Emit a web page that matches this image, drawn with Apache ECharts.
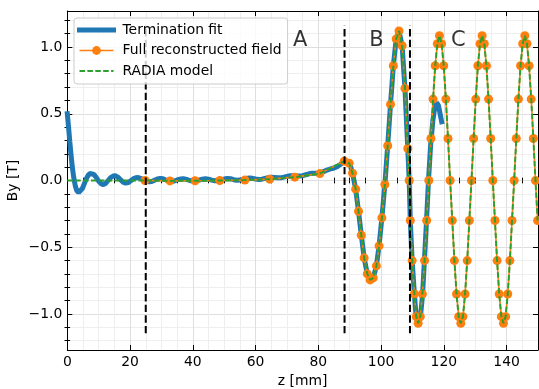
<!DOCTYPE html>
<html><head><meta charset="utf-8">
<script src="https://cdn.jsdelivr.net/npm/echarts@6/dist/echarts.min.js"></script>
<style>html,body{margin:0;padding:0;background:#fff}#c{width:539px;height:389px}</style>
</head><body><div id="c"></div>
<script>
// ---- tick values ----
const xMajor = [0, 20, 40, 60, 80, 100, 120, 140];
const xMinor = [5, 10, 15, 25, 30, 35, 45, 50, 55, 65, 70, 75, 85, 90, 95, 105, 110, 115, 125, 130, 135, 145];
const yMajor = [-1.0, -0.5, 0.0, 0.5, 1.0];
const yMinor = [-1.2, -1.1, -0.9, -0.8, -0.7, -0.6, -0.4, -0.3, -0.2, -0.1, 0.1, 0.2, 0.3, 0.4, 0.6, 0.7, 0.8, 0.9, 1.1, 1.2];

// ---- Termination fit ----
const fitX = [0,0.4,0.8,1.2,1.6,2.0,2.5,3.0,3.6,4.2,4.8,5.4,6.0,6.6,7.2,7.8,8.5,9.3,10.1,10.8,11.5,12.2,13.0,13.8,14.6,15.3,16.1,17.0,17.8,18.6,19.4,20.2,21.0,21.8,22.6,23.4,24.3,25.1,26.0,26.9,27.8,28.7,29.6,30.5,31.4,32.3,33.2,34.1,35.0,36.0,37.0,38.0,39.0,40.0,41.0,42.0,43.0,44.0,45.0,46.0,47.0,48.0,49.0,50.0,51.0,52.0,53.0,54.0,55.0,56.0,57.0,58.0,59.0,60.0,61.0,62.0,63.0,64.0,65.0,66.0,67.0,68.0,69.0,70.0,71.0,72.0,73.0,74.0,75.0,76.0,77.0,78.0,79.0,80.0,81.0,82.0,83.0,84.0,85.0,86.0,87.0,88.0,88.6,89.4,90.2,90.9,91.9,92.8,93.7,94.6,95.6,96.5,97.5,98.5,99.35,100.25,101.2,102.1,103.0,103.9,104.8,105.7,106.7,107.6,108.5,108.95,109.3,109.9,110.6,111.2,111.8,112.5,113.2,113.8,114.5,115.1,115.8,116.5,117.1,117.7,118.3,118.8,119.3];
const fitY = [0.50,0.40,0.29,0.19,0.10,0.03,-0.035,-0.075,-0.09,-0.085,-0.06,-0.025,0.01,0.037,0.052,0.055,0.045,0.02,-0.008,-0.025,-0.03,-0.022,0.0,0.022,0.033,0.035,0.025,0.005,-0.012,-0.02,-0.016,-0.002,0.012,0.02,0.022,0.016,0.005,-0.005,-0.01,-0.008,0.002,0.012,0.016,0.013,0.004,-0.004,-0.007,-0.004,0.004,0.011,0.013,0.008,0.0,-0.005,-0.004,0.003,0.01,0.013,0.01,0.003,-0.002,-0.002,0.004,0.011,0.015,0.013,0.006,0.002,0.003,0.009,0.015,0.018,0.016,0.011,0.008,0.01,0.016,0.022,0.025,0.023,0.02,0.02,0.025,0.031,0.035,0.036,0.034,0.033,0.036,0.043,0.05,0.054,0.054,0.055,0.06,0.07,0.08,0.088,0.094,0.104,0.12,0.137,0.145,0.138,0.11,0.055,-0.065,-0.23,-0.41,-0.58,-0.70,-0.745,-0.73,-0.64,-0.49,-0.28,-0.03,0.26,0.57,0.86,1.06,1.12,1.01,0.69,0.24,0.0,-0.30,-0.60,-0.85,-1.03,-1.085,-1.03,-0.86,-0.60,-0.29,0.0,0.27,0.45,0.55,0.585,0.56,0.50,0.44];

// ---- Full reconstructed field ----
const fieldX = [24.75,32.7,40.7,48.6,56.6,64.5,72.5,80.5,88.25,89.8,90.9,91.9,92.8,93.7,94.6,95.6,96.5,97.5,98.5,99.35,100.25,101.2,102.1,103.0,103.9,104.8,105.7,106.7,107.6,108.5,108.95,109.3,109.9,110.6,111.2,111.8,
  112.48,113.16,113.84,114.52,115.2,115.88,116.56,117.24,117.92,118.6,119.28,119.96,120.64,121.32,122.0,122.68,123.36,124.04,124.72,125.4,
  126.08,126.76,127.44,128.12,128.8,129.48,130.16,130.84,131.52,132.2,132.88,133.56,134.24,134.92,135.6,136.28,136.96,137.64,138.32,139.0,
  139.68,140.36,141.04,141.72,142.4,143.08,143.76,144.44,145.12,145.8,146.48,147.16,147.84,148.52,149.2,149.88];
const fieldY = [0.0,-0.003,-0.002,0.0,0.003,0.01,0.025,0.052,0.145,0.13,0.055,-0.065,-0.23,-0.41,-0.58,-0.70,-0.745,-0.73,-0.64,-0.49,-0.28,-0.03,0.26,0.57,0.86,1.06,1.12,1.01,0.69,0.24,0.0,-0.30,-0.60,-0.85,-1.02,-1.07,
  -1.02,-0.85,-0.60,-0.30,0.0,0.315,0.61,0.86,1.025,1.085,1.025,0.86,0.61,0.315,0.0,-0.30,-0.60,-0.85,-1.02,-1.07,
  -1.02,-0.85,-0.60,-0.30,0.0,0.315,0.61,0.86,1.025,1.085,1.025,0.86,0.61,0.315,0.0,-0.30,-0.60,-0.85,-1.02,-1.07,
  -1.02,-0.85,-0.60,-0.30,0.0,0.315,0.61,0.86,1.025,1.085,1.025,0.86,0.61,0.315,0.0,-0.30];

// ---- RADIA model (zero before the field region, then same as field) ----
const radiaLeadX = [0, 8, 16];
const radiaLeadY = [0, 0, 0];
const radiaX = radiaLeadX.concat(fieldX);
const radiaY = radiaLeadY.concat(fieldY);

// ---- vertical region separators ----
const vlineX = [25, 88.35, 109.2];
const vlineYLow = -1.145;
const vlineYHigh = 1.16;

// ---- region labels ----
const regionNames = ['A', 'B', 'C'];
const regionX = [74.2, 98.5, 124.6];
const regionY = [1.045, 1.045, 1.045];

const zip = (xs, ys) => xs.map((x, i) => [x, ys[i]]);
const FONT = 'DejaVu Sans';
const XMIN = 0, XMAX = 150, YMIN = -1.27, YMAX = 1.27;
const fmtY = v => (v < 0 ? '\u2212' : '') + Math.abs(v).toFixed(1);

function xAx(pos, ticks, len, opts) {
  return Object.assign({
    type: 'value', min: XMIN, max: XMAX, position: pos,
    axisLine: {show: false},
    axisTick: {show: true, inside: true, length: len, customValues: ticks, lineStyle: {color: '#000', width: 1}},
    axisLabel: {show: false},
    splitLine: {show: false}
  }, opts || {});
}
function yAx(pos, ticks, len, opts) {
  return Object.assign({
    type: 'value', min: YMIN, max: YMAX, position: pos,
    axisLine: {show: false},
    axisTick: {show: true, inside: true, length: len, customValues: ticks, lineStyle: {color: '#000', width: 1}},
    axisLabel: {show: false},
    splitLine: {show: false}
  }, opts || {});
}

const chart = echarts.init(document.getElementById('c'), null, {renderer: 'canvas'});
const series = [
  {name: 'Termination fit', type: 'line', data: zip(fitX, fitY), symbol: 'none', z: 2,
   lineStyle: {color: '#1f77b4', width: 5, cap: 'square'}, itemStyle: {color: '#1f77b4'}},
  {name: 'Full reconstructed field', type: 'line', data: zip(fieldX, fieldY), symbol: 'circle', symbolSize: 9, z: 3,
   lineStyle: {color: '#ff7f0e', width: 1.6}, itemStyle: {color: '#ff7f0e'}},
  {name: 'RADIA model', type: 'line', data: zip(radiaX, radiaY), symbol: 'none', z: 4,
   lineStyle: {color: '#2ca02c', width: 2, type: [5.5, 2.4]}, itemStyle: {color: '#2ca02c'}}
];
vlineX.forEach((x, i) => series.push({
  name: 'sep' + i, type: 'line', data: [[x, vlineYLow], [x, vlineYHigh]], symbol: 'none', silent: true, z: 5,
  lineStyle: {color: '#000', width: 2, type: [7.4, 3.2]}
}));
series.push({
  name: 'regions', type: 'scatter', symbolSize: 0, silent: true, z: 6,
  data: regionNames.map((n, i) => ({name: n, value: [regionX[i], regionY[i]]})),
  label: {show: true, position: 'inside', formatter: '{b}', fontFamily: FONT, fontSize: 21, color: '#000'}
});

chart.setOption({
  animation: false,
  backgroundColor: '#fff',
  grid: {left: 67.3, right: 1, top: 11, bottom: 39, containLabel: false, outerBoundsMode: 'none'},
  legend: {
    z: 10,
    data: [
      {name: 'Termination fit', itemStyle: {opacity: 0}},
      {name: 'Full reconstructed field'},
      {name: 'RADIA model', itemStyle: {opacity: 0}}
    ],
    orient: 'vertical', left: 74, top: 18,
    itemWidth: 34, itemHeight: 11, itemGap: 6.5,
    padding: [5, 6, 6, 3],
    backgroundColor: 'rgba(255,255,255,0.8)', borderColor: '#cccccc', borderWidth: 1, borderRadius: 3,
    textStyle: {fontFamily: FONT, fontSize: 13.9, color: '#000', padding: [0, 0, 0, 4], lineHeight: 14},
    lineStyle: {width: 'inherit'}
  },
  xAxis: [
    xAx('bottom', xMajor, 5, {
      axisLine: {show: true, onZero: false, lineStyle: {color: '#000', width: 1}},
      axisLabel: {show: true, customValues: xMajor, fontFamily: FONT, fontSize: 13.9, color: '#000', margin: 5},
      splitLine: {show: true, lineStyle: {color: '#dedede', width: 1}},
      name: 'z [mm]', nameLocation: 'middle', nameGap: 24, nameMoveOverlap: false,
      nameTextStyle: {fontFamily: FONT, fontSize: 13.9, color: '#000'}
    }),
    xAx('bottom', xMinor, 2.8, {splitLine: {show: true, lineStyle: {color: '#eeeeee', width: 1}}}),
    xAx('top', xMajor, 5, {axisLine: {show: true, onZero: false, lineStyle: {color: '#000', width: 1}}}),
    xAx('top', xMinor, 2.8)
  ],
  yAxis: [
    yAx('left', yMajor, 5, {
      axisLine: {show: true, onZero: false, lineStyle: {color: '#000', width: 1}},
      axisLabel: {show: true, customValues: yMajor, formatter: fmtY, fontFamily: FONT, fontSize: 13.9, color: '#000', margin: 5},
      splitLine: {show: true, lineStyle: {color: '#dedede', width: 1}},
      name: 'By [T]', nameLocation: 'middle', nameGap: 47, nameMoveOverlap: false,
      nameTextStyle: {fontFamily: FONT, fontSize: 13.9, color: '#000'}
    }),
    yAx('left', yMinor, 2.8, {splitLine: {show: true, lineStyle: {color: '#eeeeee', width: 1}}}),
    yAx('right', yMajor, 5, {axisLine: {show: true, onZero: false, lineStyle: {color: '#000', width: 1}}}),
    yAx('right', yMinor, 2.8)
  ],
  series: series
});
</script>
</body></html>
